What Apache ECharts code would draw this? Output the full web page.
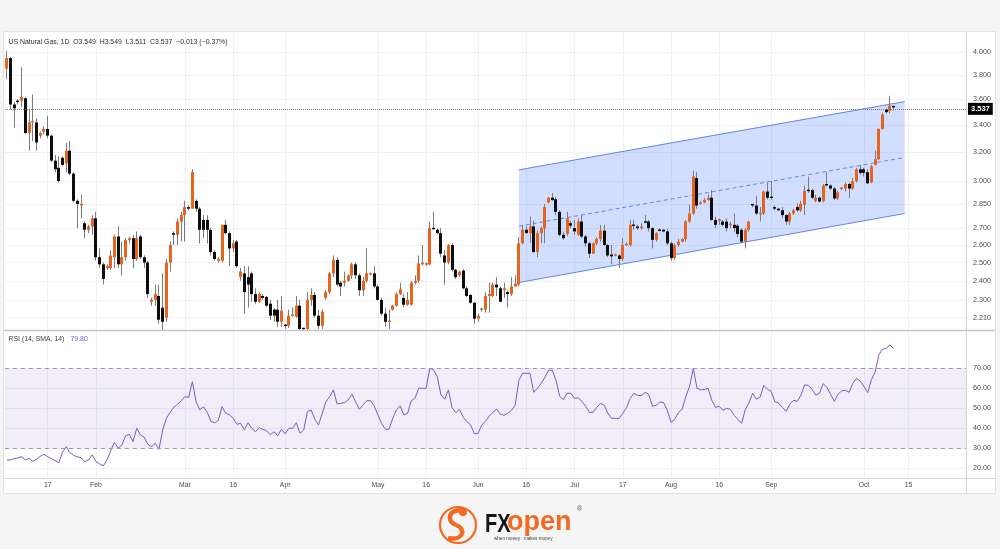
<!DOCTYPE html>
<html>
<head>
<meta charset="utf-8">
<script src="https://cdn.jsdelivr.net/npm/echarts@6/dist/echarts.min.js"></script>
<style>
html,body{margin:0;padding:0;background:#f5f5f5;}
#wrap{position:relative;width:1000px;height:549px;overflow:hidden;}
#panel{position:absolute;left:3px;top:31px;width:993px;height:463px;background:#ffffff;}
#c{position:absolute;left:0;top:0;width:1000px;height:549px;}
</style>
</head>
<body>
<div id="wrap"><div id="panel"></div><div id="c"></div></div>
<script>
// ---------------- DATA ----------------
const firstDate = '2023-01-04';   // daily bars, Sunday–Friday sessions
const slotCount = 259;             // bars + empty space on the right

const open = [
3.857,3.95,3.56,3.59,3.59,3.61,3.34,3.42,3.42,3.32,
3.35,3.37,3.32,3.14,3.09,3.16,3.12,3.21,3.05,2.87,
2.84,2.73,2.69,2.71,2.76,2.53,2.49,2.47,2.47,2.53,
2.65,2.49,2.53,2.63,2.64,2.52,2.65,2.53,2.50,2.29,
2.30,2.32,2.26,2.21,2.50,2.67,2.66,2.74,2.78,2.83,
2.82,2.87,2.82,2.75,2.75,2.69,2.56,2.51,2.51,2.72,
2.67,2.58,2.62,2.42,2.44,2.42,2.44,2.33,2.29,2.32,
2.315,2.28,2.25,2.25,2.19,2.175,2.17,2.22,2.215,2.27,
2.16,2.155,2.30,2.325,2.22,2.17,2.31,2.34,2.44,2.515,
2.39,2.39,2.40,2.43,2.49,2.43,2.35,2.40,2.435,2.44,
2.37,2.30,2.23,2.19,2.25,2.27,2.33,2.31,2.275,2.275,
2.39,2.40,2.49,2.49,2.49,2.70,2.69,2.67,2.54,2.50,
2.60,2.46,2.43,2.455,2.36,2.325,2.285,2.205,2.25,2.25,
2.32,2.32,2.38,2.36,2.35,2.34,2.33,2.37,2.38,2.61,
2.69,2.67,2.71,2.56,2.67,2.70,2.86,2.89,2.88,2.80,
2.66,2.665,2.73,2.70,2.66,2.74,2.65,2.61,2.55,2.61,
2.635,2.685,2.60,2.545,2.54,2.54,2.52,2.60,2.60,2.72,
2.71,2.70,2.74,2.74,2.70,2.63,2.69,2.69,2.68,2.61,
2.525,2.60,2.62,2.635,2.74,2.79,3.02,2.85,2.86,2.875,
2.89,2.75,2.745,2.74,2.74,2.72,2.72,2.715,2.69,2.62,
2.69,2.85,2.84,2.785,2.79,2.93,2.895,2.83,2.82,2.81,
2.78,2.74,2.79,2.83,2.81,2.845,2.94,2.94,2.87,2.89,
2.87,2.98,2.97,2.95,2.885,2.95,2.95,2.98,2.95,3.00,
3.08,3.08,3.06,2.99,3.11,3.15,3.37,3.52,3.51,3.549];

const high = [
4.01,3.96,3.58,3.60,3.87,3.62,3.52,3.64,3.45,3.35,
3.39,3.47,3.33,3.18,3.17,3.17,3.27,3.28,3.06,2.88,
2.91,2.74,2.72,2.78,2.80,2.58,2.50,2.49,2.57,2.66,
2.71,2.62,2.64,2.65,2.66,2.68,2.66,2.54,2.51,2.31,
2.38,2.38,2.44,2.52,2.62,2.68,2.76,2.80,2.87,2.84,
3.08,2.88,2.83,2.78,2.78,2.70,2.57,2.53,2.72,2.75,
2.68,2.63,2.63,2.47,2.48,2.48,2.45,2.36,2.34,2.33,
2.32,2.30,2.26,2.30,2.32,2.18,2.25,2.26,2.32,2.30,
2.16,2.34,2.36,2.34,2.25,2.25,2.35,2.45,2.54,2.53,
2.40,2.45,2.435,2.50,2.50,2.44,2.42,2.58,2.445,2.48,
2.38,2.31,2.26,2.25,2.275,2.34,2.39,2.33,2.34,2.40,
2.43,2.54,2.60,2.50,2.74,2.80,2.70,2.70,2.57,2.605,
2.61,2.465,2.455,2.465,2.37,2.33,2.29,2.23,2.26,2.34,
2.39,2.39,2.42,2.37,2.39,2.35,2.42,2.43,2.645,2.72,
2.71,2.77,2.745,2.685,2.71,2.85,2.895,2.92,2.895,2.81,
2.68,2.80,2.745,2.75,2.76,2.78,2.66,2.62,2.615,2.645,
2.72,2.72,2.605,2.60,2.55,2.545,2.64,2.615,2.75,2.75,
2.72,2.73,2.78,2.75,2.705,2.675,2.70,2.695,2.695,2.62,
2.61,2.635,2.64,2.75,2.845,3.07,3.06,2.87,2.89,2.91,
2.94,2.77,2.76,2.75,2.76,2.74,2.79,2.725,2.70,2.70,
2.745,2.85,2.90,2.83,2.935,2.99,3.00,2.84,2.825,2.83,
2.785,2.80,2.82,2.855,2.87,2.97,3.03,2.95,2.91,2.90,
2.98,3.06,2.98,2.96,2.935,2.96,2.99,2.99,3.02,3.09,
3.11,3.09,3.08,3.11,3.21,3.375,3.495,3.53,3.63,3.549];

const low = [
3.77,3.52,3.38,3.56,3.54,3.33,3.21,3.28,3.21,3.30,
3.33,3.30,3.13,3.06,2.99,3.10,3.06,3.04,2.86,2.70,
2.76,2.64,2.67,2.66,2.51,2.47,2.38,2.46,2.46,2.47,
2.47,2.43,2.51,2.61,2.47,2.51,2.52,2.47,2.31,2.27,
2.27,2.18,2.15,2.19,2.45,2.60,2.60,2.62,2.62,2.81,
2.82,2.80,2.61,2.64,2.61,2.54,2.51,2.50,2.50,2.66,
2.48,2.56,2.47,2.40,2.23,2.26,2.29,2.28,2.285,2.30,
2.265,2.20,2.19,2.165,2.165,2.155,2.16,2.215,2.21,2.15,
2.15,2.15,2.27,2.21,2.155,2.155,2.30,2.33,2.42,2.37,
2.32,2.37,2.395,2.41,2.41,2.32,2.32,2.39,2.43,2.36,
2.295,2.22,2.165,2.155,2.245,2.265,2.325,2.26,2.27,2.27,
2.38,2.39,2.485,2.48,2.485,2.69,2.665,2.53,2.38,2.49,
2.45,2.41,2.42,2.355,2.315,2.28,2.18,2.19,2.24,2.235,
2.235,2.315,2.32,2.29,2.31,2.26,2.32,2.37,2.37,2.605,
2.665,2.61,2.555,2.53,2.61,2.61,2.855,2.87,2.78,2.65,
2.63,2.655,2.70,2.66,2.655,2.64,2.59,2.525,2.55,2.60,
2.62,2.595,2.53,2.49,2.535,2.47,2.51,2.595,2.59,2.69,
2.69,2.69,2.73,2.68,2.58,2.62,2.68,2.675,2.60,2.51,
2.515,2.59,2.615,2.62,2.73,2.78,2.82,2.845,2.855,2.87,
2.745,2.70,2.72,2.71,2.68,2.70,2.675,2.645,2.61,2.58,
2.68,2.83,2.78,2.74,2.78,2.88,2.875,2.81,2.805,2.76,
2.72,2.72,2.78,2.80,2.80,2.78,2.92,2.88,2.86,2.86,
2.86,2.965,2.94,2.875,2.875,2.94,2.93,2.89,2.94,2.99,
3.04,3.03,2.98,2.985,3.105,3.145,3.365,3.49,3.49,3.511];

const close = [
3.95,3.56,3.53,3.58,3.62,3.34,3.42,3.43,3.27,3.34,
3.37,3.32,3.14,3.08,3.00,3.11,3.21,3.05,2.87,2.85,
2.85,2.69,2.71,2.76,2.53,2.49,2.41,2.48,2.54,2.65,
2.49,2.53,2.63,2.64,2.52,2.64,2.53,2.50,2.33,2.30,
2.33,2.20,2.19,2.50,2.60,2.66,2.74,2.78,2.83,2.82,
3.06,2.82,2.69,2.69,2.69,2.56,2.52,2.52,2.72,2.67,
2.58,2.61,2.48,2.45,2.34,2.38,2.33,2.29,2.33,2.31,
2.27,2.22,2.22,2.19,2.245,2.17,2.22,2.225,2.27,2.155,
2.155,2.30,2.325,2.22,2.17,2.24,2.34,2.44,2.515,2.38,
2.37,2.40,2.43,2.49,2.43,2.35,2.40,2.44,2.44,2.37,
2.30,2.23,2.19,2.195,2.27,2.33,2.355,2.275,2.30,2.39,
2.40,2.495,2.50,2.495,2.70,2.695,2.67,2.55,2.50,2.60,
2.46,2.42,2.45,2.36,2.32,2.285,2.205,2.22,2.255,2.32,
2.33,2.38,2.365,2.29,2.36,2.33,2.37,2.385,2.61,2.69,
2.67,2.71,2.56,2.67,2.70,2.83,2.89,2.875,2.80,2.66,
2.64,2.76,2.715,2.68,2.74,2.65,2.61,2.55,2.61,2.635,
2.685,2.60,2.54,2.535,2.545,2.52,2.60,2.605,2.72,2.715,
2.70,2.71,2.735,2.70,2.63,2.67,2.685,2.68,2.61,2.525,
2.60,2.62,2.635,2.74,2.79,3.03,2.84,2.86,2.875,2.89,
2.75,2.72,2.755,2.72,2.70,2.725,2.70,2.665,2.62,2.69,
2.74,2.84,2.79,2.795,2.93,2.89,2.89,2.82,2.81,2.78,
2.74,2.79,2.81,2.81,2.85,2.935,2.935,2.89,2.89,2.865,
2.97,2.97,2.95,2.885,2.925,2.955,2.98,2.95,3.00,3.08,
3.055,3.055,2.985,3.10,3.15,3.37,3.48,3.50,3.55,3.537];

const rsi = [
24.2,24.2,24.8,25.2,25.8,24.2,25,23.5,24.5,26,
27,25.8,24.8,23.8,22.8,28,30.8,27.8,26.5,25.7,
25.3,23.3,24.2,26.7,23.4,22.2,21.2,24.2,28.8,33,
30,31.7,36.2,37,33.3,40,36.7,35.5,32,30.8,
32.5,29.5,39.2,45,48,50.5,52,53.8,55.8,55.5,
63.3,53.3,49.2,50.8,48,43.5,42.7,44,50.8,47.5,
46.7,45,42,42.5,39.2,42.8,40,38.3,40.3,39.5,
38.8,36.7,38.3,36.3,39.5,37.2,40,40,42.8,37.5,
39.2,48.3,49.2,44.5,41.7,47.5,53.3,55.8,59.2,52.2,
52.5,52.8,54.2,57,53.3,49.5,51.7,53.8,53.8,51.2,
46.7,42.5,39.5,39.5,45,49.2,51.2,46.7,47.5,53.8,
55,60,60,60,70,69.2,65.8,56.7,54.5,59.2,
50.3,47.8,49.5,45.5,43.3,41.7,37.2,37.5,41.7,43.5,
46,48,49.6,47,46.5,47.5,49,51.5,64,67.5,
67.5,67.5,58,60,62.5,65.5,69,69,64,56,
54.3,57.5,57.5,55,55.2,53.5,51,48,48,50.5,
52.5,51.5,47.5,45,45,44.8,47.5,50.3,55,57.5,
56.5,56.3,58,57,51,51.5,53.2,52.8,49,43,
44.5,48,49.5,56,61,70,60,59.2,59.4,60,
54,50.5,51,49,50,49.5,46.5,44.5,42.5,49.2,
52.8,57.5,54.5,55.5,61.5,59.5,58.5,53.3,52.6,50.5,
48.5,52,54,53.5,56.5,61.7,61.5,59.5,56.6,57.5,
62.3,60.5,57,53.5,57,58.8,59,58,62.5,65,
63.6,61,57.8,64.3,68,76.7,79.5,80,81.7,79.8];

const priceTicks = [4.000,3.800,3.600,3.400,3.200,3.000,2.850,2.700,2.600,2.500,2.400,2.300,2.210];
const priceRange = [2.150, 4.177];
const rsiTicks = [20,30,40,50,60,70];
const rsiRange = [15.15, 88.65];
const rsiBand = [30, 70];

const timeLabels = [
 ['2023-01-17','17'],['2023-02-01','Feb'],['2023-03-01','Mar'],['2023-03-16','16'],
 ['2023-04-02','Apr'],['2023-05-01','May'],['2023-05-16','16'],['2023-06-01','Jun'],
 ['2023-06-16','16'],['2023-07-02','Jul'],['2023-07-17','17'],['2023-08-01','Aug'],
 ['2023-08-16','16'],['2023-09-01','Sep'],['2023-10-01','Oct'],['2023-10-15','15']];

const channelDates = ['2023-06-14','2023-10-13'];
const channelTop = [3.076, 3.583];
const channelBottom = [2.391, 2.790];

const lastPrice = 3.537;
const lastRsi = 79.80;
const headerText = 'US Natural Gas, 1D  O3.549  H3.549  L3.511  C3.537  \u22120.013 (\u22120.37%)';

// ---------------- BUILD ----------------
const cats = [];
{
  const p = firstDate.split('-').map(Number);
  let t = Date.UTC(p[0], p[1]-1, p[2]);
  while (cats.length < slotCount) {
    const d = new Date(t);
    if (d.getUTCDay() !== 6) cats.push(d.toISOString().slice(0,10));
    t += 86400000;
  }
}
const labelMap = {};
timeLabels.forEach(([d,l]) => labelMap[d] = l);
const isLabel = (idx, val) => labelMap[val] !== undefined;

const ORANGE = '#e8641c';
const BLACK = '#0d0d0d';
const WICK = '#7c7c7c';
const BLUE = '#5a86ee';
const PURPLE = '#7e57c2';
const GRID = '#eff1f5';
const TXT = '#4a4a4a';
const FONT = 'Liberation Sans, Arial, sans-serif';

const candleData = open.map((o,i) => [i, Math.log(o), Math.log(close[i]), Math.log(low[i]), Math.log(high[i])]);
const chIdx = channelDates.map(d => cats.indexOf(d));
const channelData = [[chIdx[0], chIdx[1], Math.log(channelTop[0]), Math.log(channelBottom[0]), Math.log(channelTop[1]), Math.log(channelBottom[1])]];

function renderCandle(params, api) {
  const i = api.value(0);
  const pO = api.coord([i, api.value(1)]);
  const pC = api.coord([i, api.value(2)]);
  const pL = api.coord([i, api.value(3)]);
  const pH = api.coord([i, api.value(4)]);
  const up = api.value(2) >= api.value(1);
  const bx = Math.round(pO[0] - 1.5);
  let top = Math.min(pO[1], pC[1]);
  let h = Math.abs(pO[1] - pC[1]);
  if (h < 1.4) { top -= (1.4 - h) / 2; h = 1.4; }
  return {type:'group', children:[
    {type:'line', shape:{x1:bx+1.5, y1:pH[1], x2:bx+1.5, y2:pL[1]}, style:{stroke:WICK, lineWidth:1}},
    {type:'rect', shape:{x:bx, y:top, width:3, height:h}, style:{fill: up ? ORANGE : BLACK}}
  ]};
}

function renderChannel(params, api) {
  const a = api.coord([api.value(0), api.value(2)]);
  const b = api.coord([api.value(1), api.value(4)]);
  const c = api.coord([api.value(1), api.value(5)]);
  const d = api.coord([api.value(0), api.value(3)]);
  const m1 = [(a[0]+d[0])/2, (a[1]+d[1])/2];
  const m2 = [(b[0]+c[0])/2, (b[1]+c[1])/2];
  return {type:'group', children:[
    {type:'polygon', shape:{points:[a,b,c,d]}, style:{fill:'rgba(41,98,255,0.21)'}},
    {type:'line', shape:{x1:a[0],y1:a[1],x2:b[0],y2:b[1]}, style:{stroke:BLUE, lineWidth:1}},
    {type:'line', shape:{x1:d[0],y1:d[1],x2:c[0],y2:c[1]}, style:{stroke:BLUE, lineWidth:1}},
    {type:'line', shape:{x1:m1[0],y1:m1[1],x2:m2[0],y2:m2[1]}, style:{stroke:BLUE, lineWidth:1, lineDash:[4,3]}}
  ]};
}

const axisLabelStyle = {color: TXT, fontSize: 7.2, fontFamily: FONT};

const option = {
  animation: false,
  backgroundColor: 'transparent',
  grid: [
    {left: 5, top: 33, width: 961, height: 297},
    {left: 5, top: 331, width: 961, height: 147}
  ],
  xAxis: [
    {type:'category', gridIndex:0, data:cats, boundaryGap:true,
     axisLine:{show:false}, axisTick:{show:false}, axisLabel:{show:false},
     splitLine:{show:true, interval:isLabel, alignWithLabel:true, lineStyle:{color:GRID, width:1}}},
    {type:'category', gridIndex:1, data:cats, boundaryGap:true,
     axisLine:{show:false}, axisTick:{show:false},
     axisLabel:Object.assign({show:true, interval:isLabel, margin:4, formatter:(v)=>labelMap[v]||''}, axisLabelStyle, {fontSize:6.8}),
     splitLine:{show:true, interval:isLabel, alignWithLabel:true, lineStyle:{color:GRID, width:1}}}
  ],
  yAxis: [
    {type:'value', gridIndex:0, position:'right', min:Math.log(priceRange[0]), max:Math.log(priceRange[1]),
     axisLine:{show:false},
     axisTick:{show:false, customValues: priceTicks.map(Math.log)},
     axisLabel:Object.assign({margin:7, customValues: priceTicks.map(Math.log), formatter:(v)=>Math.exp(v).toFixed(3)}, axisLabelStyle),
     splitLine:{show:true, customValues: priceTicks.map(Math.log), lineStyle:{color:GRID, width:1}}},
    {type:'value', gridIndex:1, position:'right', min:rsiRange[0], max:rsiRange[1],
     axisLine:{show:false},
     axisTick:{show:false, customValues: rsiTicks},
     axisLabel:Object.assign({margin:7, customValues: rsiTicks, formatter:(v)=>Number(v).toFixed(2)}, axisLabelStyle),
     splitLine:{show:true, customValues: rsiTicks, lineStyle:{color:GRID, width:1}}}
  ],
  series: [
    {type:'custom', name:'channel', xAxisIndex:0, yAxisIndex:0, z:1, silent:true,
     encode:{x:[0,1], y:[2,3,4,5]}, data: channelData, renderItem: renderChannel},
    {type:'custom', name:'US Natural Gas', xAxisIndex:0, yAxisIndex:0, z:3, silent:true,
     encode:{x:0, y:[1,2,3,4]}, data: candleData, renderItem: renderCandle,
     markLine:{silent:true, symbol:['none','none'], animation:false,
       data:[{yAxis: Math.log(lastPrice)}],
       lineStyle:{color:'#7a7a7a', type:'dotted', width:1},
       label:{show:true, position:'end', distance:2, formatter: lastPrice.toFixed(3),
         backgroundColor:'#000', color:'#fff', fontWeight:'bold', fontSize:7.5, fontFamily:FONT, padding:[2,3,2,3]}}},
    {type:'line', name:'RSI', xAxisIndex:1, yAxisIndex:1, data: rsi, symbol:'none', silent:true, z:3,
     lineStyle:{color:PURPLE, width:1},
     markArea:{silent:true, itemStyle:{color:'rgba(126,87,194,0.1)'}, data:[[{yAxis:rsiBand[0]},{yAxis:rsiBand[1]}]]},
     markLine:{silent:true, symbol:['none','none'], animation:false,
       data:[
         {yAxis:rsiBand[1], lineStyle:{color:'#9a93b3', type:[4,4], width:1}, label:{show:false}},
         {yAxis:rsiBand[0], lineStyle:{color:'#9a93b3', type:[4,4], width:1}, label:{show:false}},
         {yAxis:lastRsi, lineStyle:{opacity:0}, label:{show:true, position:'end', distance:2,
           formatter: lastRsi.toFixed(2), backgroundColor:PURPLE, color:'#fff', fontSize:7.5, fontFamily:FONT, padding:[2,3,2,3]}}
       ]}}
  ],
  graphic: [
    {type:'line', silent:true, shape:{x1:3, y1:330.5, x2:996, y2:330.5}, style:{stroke:'#c3c5cb', lineWidth:1.5}, z:50},
    {type:'line', silent:true, shape:{x1:966.5, y1:31, x2:966.5, y2:494}, style:{stroke:'#d3d5da', lineWidth:1}, z:50},
    {type:'line', silent:true, shape:{x1:3, y1:478.5, x2:996, y2:478.5}, style:{stroke:'#d3d5da', lineWidth:1}, z:50},
    {type:'rect', silent:true, shape:{x:3.5, y:31.5, width:992, height:462}, style:{fill:'none', stroke:'#e2e2e2', lineWidth:1}, z:50},
    {type:'text', silent:true, x:8.5, y:42.5, z:60, style:{text:headerText, fill:'#2a2e39', fontSize:6.9, fontFamily:FONT, verticalAlign:'middle'}},
    {type:'text', silent:true, x:8.5, y:339.5, z:60, style:{text:'RSI (14, SMA, 14)', fill:'#3a3e49', fontSize:6.9, fontFamily:FONT, verticalAlign:'middle'}},
    {type:'text', silent:true, x:70.5, y:339.5, z:60, style:{text:lastRsi.toFixed(2), fill:PURPLE, fontSize:6.9, fontFamily:FONT, verticalAlign:'middle'}},
    // logo
    {type:'circle', silent:true, z:60, shape:{cx:458, cy:525, r:18}, style:{fill:'none', stroke:'#f26a21', lineWidth:2.2}},
    {type:'bezierCurve', silent:true, z:60, shape:{x1:465, y1:511, cpx1:449, cpy1:507, cpx2:445, cpy2:521, x2:456, y2:525}, style:{fill:'none', stroke:'#f26a21', lineWidth:4.5}},
    {type:'bezierCurve', silent:true, z:60, shape:{x1:456, y1:525, cpx1:467, cpy1:529, cpx2:463, cpy2:541, x2:448, y2:538}, style:{fill:'none', stroke:'#f26a21', lineWidth:4.5}},
    {type:'circle', silent:true, z:60, shape:{cx:463, cy:512, r:4}, style:{fill:'#f26a21'}},
    {type:'text', silent:true, z:60, x:485, y:525, scaleX:0.8, style:{text:'FX', fill:'#161616', fontSize:25, fontWeight:'bold', fontFamily:FONT, verticalAlign:'middle'}},
    {type:'text', silent:true, z:60, x:507, y:523, style:{text:'open', fill:'#f26a21', fontSize:27, fontWeight:'bold', fontFamily:FONT, verticalAlign:'middle'}},
    {type:'text', silent:true, z:60, x:577, y:509, style:{text:'\u00AE', fill:'#555', fontSize:7, fontFamily:FONT, verticalAlign:'middle'}},
    {type:'text', silent:true, z:60, x:494, y:538.5, style:{text:'when money   makes money', fill:'#444', fontSize:4.6, fontFamily:FONT, verticalAlign:'middle'}}
  ]
};

const chart = echarts.init(document.getElementById('c'), null, {renderer:'canvas', width:1000, height:549});
chart.setOption(option);
</script>
</body>
</html>
